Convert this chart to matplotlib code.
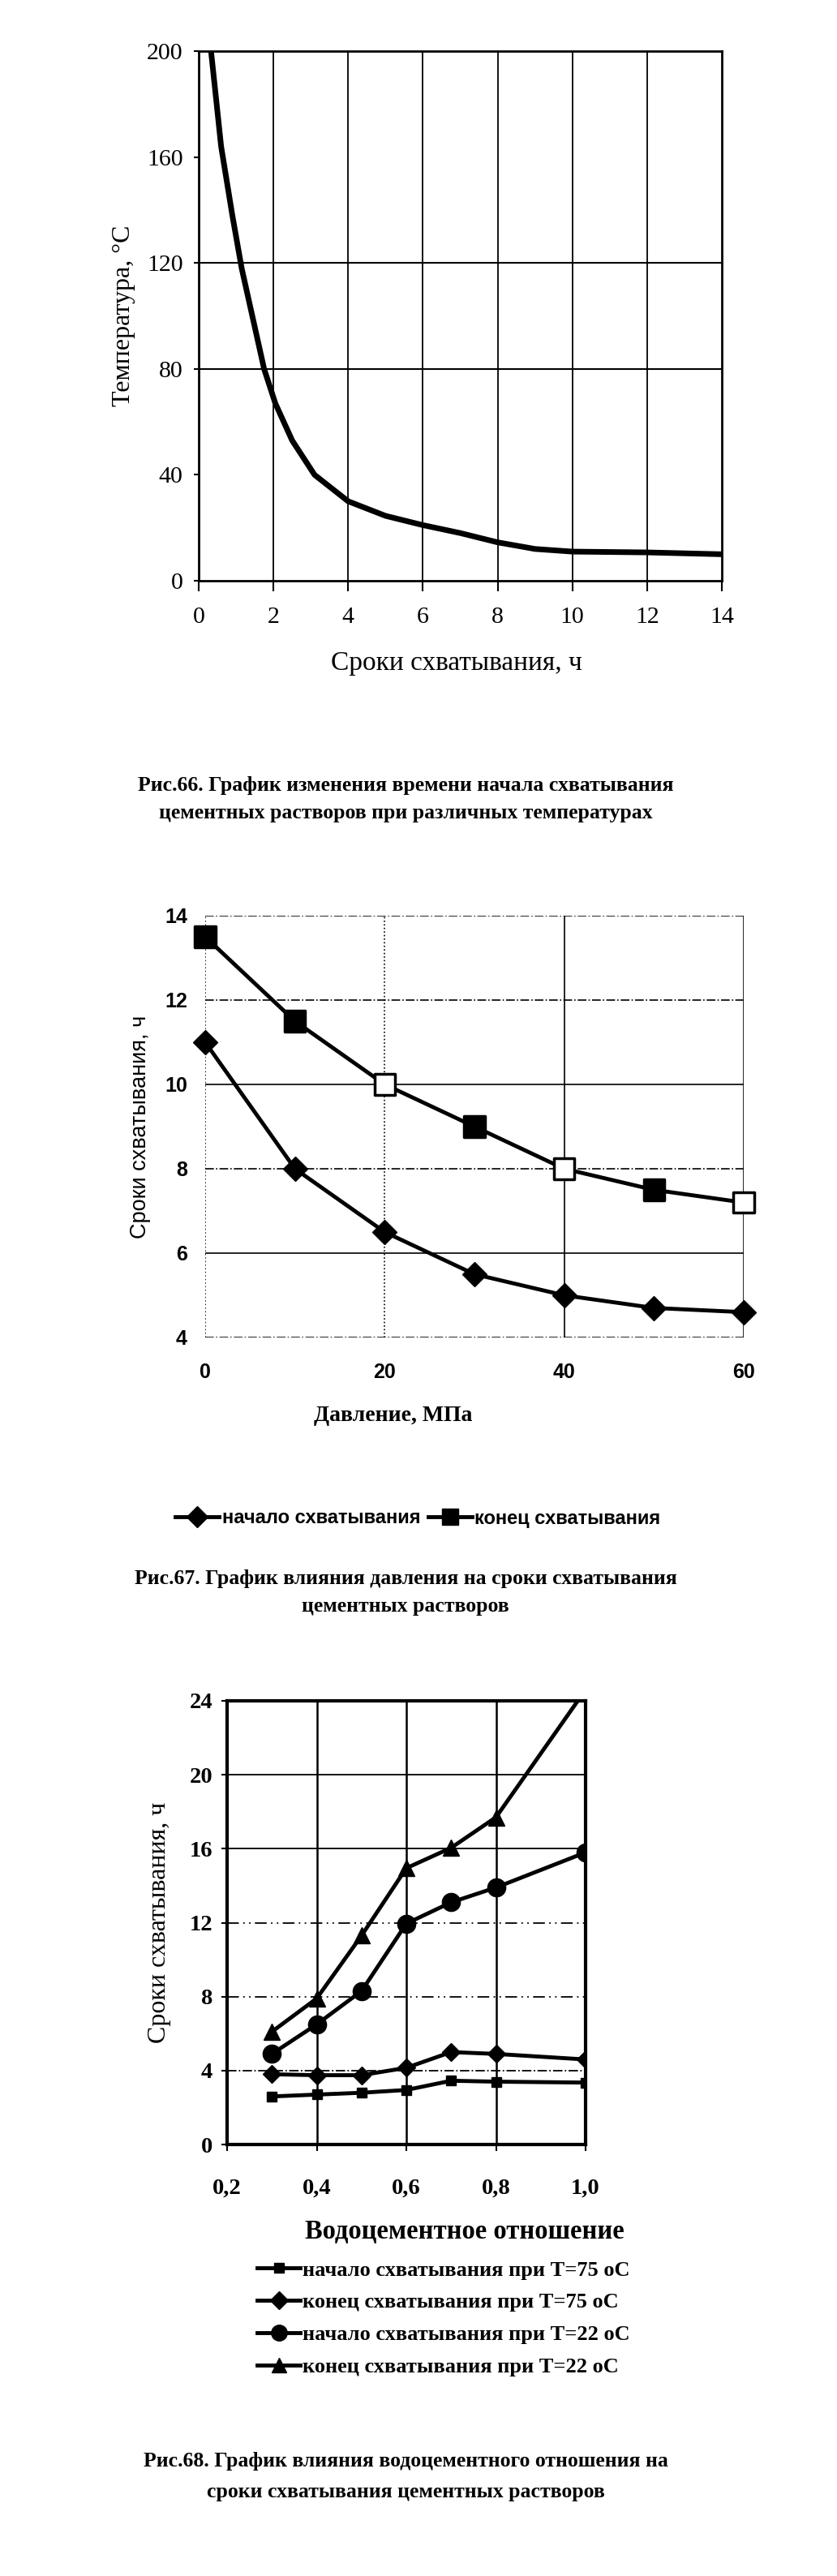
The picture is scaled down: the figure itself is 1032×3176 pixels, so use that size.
import matplotlib
matplotlib.use("Agg")
import matplotlib.pyplot as plt
from matplotlib.lines import Line2D

W, H = 1032, 3176

# ---- Рис.66 data
temp_time = [0.33, 0.6, 0.9, 1.15, 1.45, 1.75, 2.05, 2.5, 3.1, 4.0, 5.0, 6.0, 7.0, 8.0, 9.0, 10.0, 12.0, 14.0]
temp_vals = [200, 164, 138, 118, 99, 80, 67, 53, 40, 30, 24.5, 21, 18, 14.5, 12, 11, 10.7, 10]
fig66_xticks = [0, 2, 4, 6, 8, 10, 12, 14]
fig66_yticks = [0, 40, 80, 120, 160, 200]
fig66_hgrid = [80, 120]

# ---- Рис.67 data
pressure = [0, 10, 20, 30, 40, 50, 60]
start_set = [11, 8, 6.5, 5.5, 5.0, 4.7, 4.6]
end_set = [13.5, 11.5, 10, 9, 8, 7.5, 7.2]
end_hollow = [False, False, True, False, True, False, True]
fig67_xticks = [0, 20, 40, 60]
fig67_yticks = [4, 6, 8, 10, 12, 14]

# ---- Рис.68 data
wc_ratio = [0.3, 0.4, 0.5, 0.6, 0.7, 0.8, 1.0]
start_75 = [2.6, 2.7, 2.8, 2.95, 3.45, 3.4, 3.35]
end_75 = [3.8, 3.75, 3.75, 4.15, 5.0, 4.9, 4.6]
start_22 = [4.9, 6.5, 8.3, 11.95, 13.1, 13.9, 15.8]
end_22 = [6.1, 7.9, 11.3, 14.95, 16.05, 17.7, 24.6]
fig68_xticks = [0.2, 0.4, 0.6, 0.8, 1.0]
fig68_xlabels = ["0,2", "0,4", "0,6", "0,8", "1,0"]
fig68_yticks = [0, 4, 8, 12, 16, 20, 24]
series_labels = ["начало схватывания при Т=75 оС", "конец схватывания при Т=75 оС",
                 "начало схватывания при Т=22 оС", "конец схватывания при Т=22 оС"]

SERIF = "Liberation Serif"
SANS = "Liberation Sans"
NARROW = ["Liberation Sans Narrow", "Liberation Sans"]


def fx(x):
    return x / W


def fy(y):
    return 1 - y / H


def box(x0, y0, x1, y1):
    return [fx(x0), fy(y1), (x1 - x0) / W, (y1 - y0) / H]


def caption(y, text):
    fig.text(fx(500), fy(y), text, fontfamily=SERIF, fontsize=18.5,
             fontweight="bold", ha="center", va="center")


fig = plt.figure(figsize=(W / 100, H / 100), dpi=100)

# ================= Рис.66 =================
ax1 = fig.add_axes(box(245, 63, 890, 716))
ax1.plot(temp_time, temp_vals, color="black", lw=5, solid_capstyle="round")
ax1.set_xlim(0, 14)
ax1.set_ylim(0, 200)
ax1.set_xticks(fig66_xticks)
ax1.set_yticks(fig66_yticks)
for v in fig66_xticks[1:-1]:
    ax1.axvline(v, color="black", lw=1.3, zorder=0)
for v in fig66_hgrid:
    ax1.axhline(v, color="black", lw=1.5, zorder=0)
for s in ax1.spines.values():
    s.set_linewidth(2)
ax1.tick_params(axis="x", length=9, width=1.5, pad=14)
ax1.tick_params(axis="y", length=4, width=1.5, pad=10)
for lab in ax1.get_xticklabels() + ax1.get_yticklabels():
    lab.set_fontfamily(SERIF)
    lab.set_fontsize(21.5)
ax1.set_ylabel("Температура, °С", fontfamily=SERIF, fontsize=23, labelpad=10)
fig.text(fx(563), fy(818), "Сроки схватывания, ч", fontfamily=SERIF, fontsize=24,
         ha="center", va="center")
caption(968, "Рис.66. График изменения времени начала схватывания")
caption(1002, "цементных растворов при различных температурах")

# ================= Рис.67 =================
ax2 = fig.add_axes(box(253, 1129, 917, 1649))
grid_h = {4: "-.", 6: "-", 8: "-.", 10: "-", 12: "-.", 14: "-."}
for v, ls in grid_h.items():
    ax2.axhline(v, color="black", lw=1.2, ls=ls, zorder=0)
grid_v = {0: ":", 20: ":", 40: "-", 60: "-"}
for v, ls in grid_v.items():
    ax2.axvline(v, color="black", lw=1.2, ls=ls, zorder=0)
ax2.plot(pressure, start_set, color="black", lw=3.5, clip_on=False, zorder=2)
ax2.plot(pressure, start_set, "D", color="black", ms=15, clip_on=False, zorder=3)
ax2.plot(pressure, end_set, color="black", lw=3.5, clip_on=False, zorder=2)
faces = ["white" if h else "black" for h in end_hollow]
ax2.scatter(pressure, end_set, marker="s", s=330, c=faces, edgecolors="black",
            linewidths=2.5, clip_on=False, zorder=3)
ax2.set_xlim(0, 60)
ax2.set_ylim(4, 14)
ax2.set_xticks(fig67_xticks)
ax2.set_yticks(fig67_yticks)
for s in ax2.spines.values():
    s.set_visible(False)
ax2.tick_params(length=0, pad=22)
ax2.tick_params(axis="y", pad=16)
for lab in ax2.get_xticklabels() + ax2.get_yticklabels():
    lab.set_fontfamily(SANS)
    lab.set_fontweight("bold")
    lab.set_fontsize(18)
ax2.set_ylabel("Сроки схватывания, ч", fontfamily=NARROW, fontsize=19.5, labelpad=12)
fig.text(fx(485), fy(1746), "Давление, МПа", fontfamily=SERIF, fontsize=20,
         fontweight="bold", ha="center", va="center")
h67 = [Line2D([], [], color="black", lw=3.5, marker="D", ms=13),
       Line2D([], [], color="black", lw=3.5, marker="s", ms=14)]
fig.legend(h67, ["начало схватывания", "конец схватывания"], loc="center left",
           bbox_to_anchor=(fx(204), fy(1872)), frameon=False, ncol=2,
           prop={"family": NARROW, "weight": "bold", "size": 17},
           handlelength=2.3, handletextpad=0.15, columnspacing=0.4, borderpad=0)
caption(1947, "Рис.67. График влияния давления на сроки схватывания")
caption(1980, "цементных растворов")

# ================= Рис.68 =================
ax3 = fig.add_axes(box(280, 2097, 722, 2644))
for v in fig68_xticks[1:-1]:
    ax3.axvline(v, color="black", lw=1.8, zorder=0)
grid3 = {4: "-.", 8: (0, (8, 3, 1, 3, 1, 3)), 12: (0, (8, 3, 1, 3, 1, 3)), 16: "-", 20: "-"}
for v, ls in grid3.items():
    ax3.axhline(v, color="black", lw=1.3, ls=ls, zorder=0)
ax3.plot(wc_ratio, start_75, color="black", lw=3.5, marker="s", ms=9, zorder=3)
ax3.plot(wc_ratio, end_75, color="black", lw=3.5, marker="D", ms=11, zorder=3)
ax3.plot(wc_ratio, start_22, color="black", lw=3.5, marker="o", ms=16, zorder=3)
ax3.plot(wc_ratio, end_22, color="black", lw=3.5, marker="^", ms=14, zorder=3)
ax3.set_xlim(0.2, 1.0)
ax3.set_ylim(0, 24)
ax3.set_xticks(fig68_xticks)
ax3.set_xticklabels(fig68_xlabels)
ax3.set_yticks(fig68_yticks)
for s in ax3.spines.values():
    s.set_linewidth(3)
ax3.tick_params(axis="x", length=6, width=1.5, pad=24)
ax3.tick_params(axis="y", length=5, width=1.5, pad=8)
for lab in ax3.get_xticklabels() + ax3.get_yticklabels():
    lab.set_fontfamily(SERIF)
    lab.set_fontweight("bold")
    lab.set_fontsize(20.5)
ax3.set_ylabel("Сроки схватывания, ч", fontfamily=SERIF, fontsize=23, labelpad=16)
fig.text(fx(573), fy(2751), "Водоцементное отношение", fontfamily=SERIF, fontsize=23.5,
         fontweight="bold", ha="center", va="center")
h68 = [Line2D([], [], color="black", lw=3.5, marker="s", ms=9),
       Line2D([], [], color="black", lw=3.5, marker="D", ms=11),
       Line2D([], [], color="black", lw=3.5, marker="o", ms=14),
       Line2D([], [], color="black", lw=3.5, marker="^", ms=13)]
fig.legend(h68, series_labels, loc="upper left", bbox_to_anchor=(fx(304), fy(2774)),
           frameon=False, prop={"family": SERIF, "weight": "bold", "size": 19},
           handlelength=2.0, handletextpad=0.1, labelspacing=0.62, borderpad=0)
caption(3035, "Рис.68. График влияния водоцементного отношения на")
caption(3073, "сроки схватывания цементных растворов")

fig.savefig("out.png", dpi=100)
